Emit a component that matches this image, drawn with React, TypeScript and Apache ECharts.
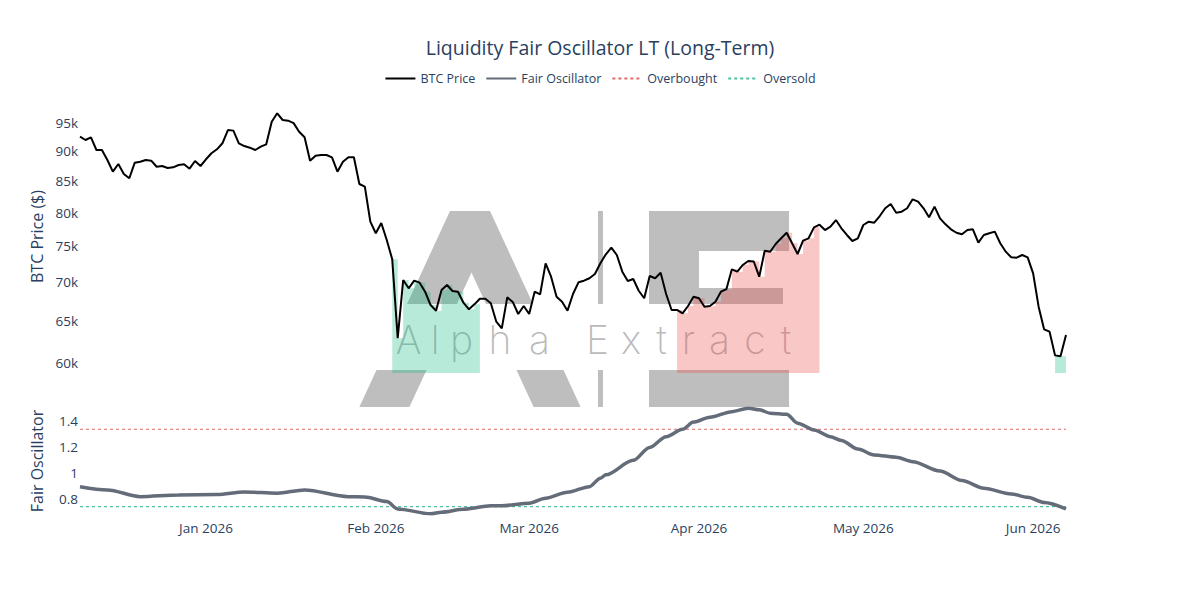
import React, { useEffect, useRef } from "react";
import * as echarts from "echarts";

// ---------- data ----------
const START_DATE = Date.UTC(2025, 11, 9); // first daily observation
const DAY_MS = 86400000;

const BTC_PRICE = [
  92590, 92000, 92480, 90250, 90250, 88540, 86570, 87860, 86190, 85480,
  88080, 88250, 88540, 88420, 87400, 87520, 87190, 87300, 87690, 87800,
  87070, 88370, 87520, 88660, 89680, 90370, 91420, 93780, 93670, 91420,
  90940, 90650, 90250, 90830, 91240, 95290, 96840, 95600, 95480, 95030,
  93480, 92480, 88420, 89270, 89390, 89390, 88990, 86570, 88250, 88990,
  88990, 84550, 84110, 78650, 76920, 78450, 75930, 73170, 62880, 70320,
  69210, 70230, 69960, 68760, 67020, 66300, 68980, 69650, 68850, 68760,
  67320, 66470, 67110, 67840, 67840, 67250, 64910, 64090, 68020, 67420,
  65880, 66900, 65880, 68760, 68420, 72610, 70770, 68100, 67450, 66300,
  68460, 70010, 70230, 70560, 71140, 72610, 73880, 74820, 73780, 71460,
  70190, 70460, 68890, 67900, 70860, 70560, 71310, 68460, 66390, 66390,
  65970, 66900, 68100, 67900, 66810, 66900, 67450, 68760, 69080, 71780,
  71460, 72380, 72940, 72860, 70770, 74390, 74240, 75350, 76180, 77000,
  75460, 73920, 75830, 76180, 77800, 78200, 77400, 77900, 78900, 77660,
  76670, 75790, 76180, 78150, 78650, 78500, 79510, 80700, 81370, 80020,
  80170, 80700, 82100, 81730, 80700, 79310, 80950, 79160, 78250, 77510,
  77000, 76770, 77400, 77510, 75540, 76670, 76920, 77160, 75460, 74250,
  73450, 73400, 73780, 73450, 71230, 66810, 63970, 63680, 60850, 60750,
  63280,
];

// Fair oscillator, read at these day offsets from START_DATE
const OSC_DAYS = [
  0, 5, 11, 18, 25, 30, 36, 41, 49, 52, 56, 58, 64, 66, 70, 75, 77, 82, 85, 89,
  93, 95, 96, 101, 104, 107, 110, 112, 115, 119, 122, 124, 126, 129, 131, 134,
  137, 139, 142, 145, 149, 152, 157, 161, 165, 170, 173, 176, 180,
];
const OSC_VALUES = [
  0.897, 0.872, 0.82, 0.833, 0.836, 0.856, 0.846, 0.872, 0.82, 0.818, 0.782,
  0.725, 0.687, 0.7, 0.723, 0.75, 0.75, 0.769, 0.808, 0.854, 0.897, 0.962,
  0.988, 1.1, 1.2, 1.283, 1.34, 1.395, 1.433, 1.476, 1.503, 1.49, 1.464, 1.456,
  1.387, 1.335, 1.283, 1.253, 1.188, 1.142, 1.124, 1.09, 1.018, 0.944, 0.885,
  0.841, 0.815, 0.774, 0.725,
];

const OVERBOUGHT_LEVEL = 1.34;
const OVERSOLD_LEVEL = 0.743;

// zones (day offsets, inclusive) where the oscillator is beyond a threshold
const OVERSOLD_ZONES = [
  [57, 72],
  [178, 180],
];
const OVERBOUGHT_ZONES = [[109, 134]];

const PRICE_TICKS = [60000, 65000, 70000, 75000, 80000, 85000, 90000, 95000];
const OSC_TICKS = [0.8, 1, 1.2, 1.4];
const MONTH_TICKS = ["2026-01-01", "2026-02-01", "2026-03-01", "2026-04-01", "2026-05-01", "2026-06-01"];
const MONTH_NAMES = ["Jan", "Feb", "Mar", "Apr", "May", "Jun", "Jul", "Aug", "Sep", "Oct", "Nov", "Dec"];

const TITLE = "Liquidity Fair Oscillator LT (Long-Term)";

// ---------- helpers ----------
const dayTime = (i: number) => START_DATE + i * DAY_MS;
const inZones = (i: number, zones: number[][]) => zones.some(([a, b]) => i >= a && i <= b);

const TEXT = "#2a3f5f";
const FONT = "'Open Sans', 'Noto Sans', sans-serif";
const WM = "#bebebe";

export default function App() {
  const ref = useRef<HTMLDivElement>(null);

  useEffect(() => {
    if (!ref.current) return;
    const chart = echarts.init(ref.current, undefined, { renderer: "svg" });

    const priceData = BTC_PRICE.map((p, i) => [dayTime(i), p]);
    const oversoldFill = BTC_PRICE.map((p, i) => [dayTime(i), inZones(i, OVERSOLD_ZONES) ? p : null]);
    const overboughtFill = BTC_PRICE.map((p, i) => [dayTime(i), inZones(i, OVERBOUGHT_ZONES) ? p : null]);
    const oscData = OSC_DAYS.map((d, k) => [dayTime(d), OSC_VALUES[k]]);
    const tMin = dayTime(0);
    const tMax = dayTime(BTC_PRICE.length - 1);
    const monthTicks = MONTH_TICKS.map((s) => Date.parse(s + "T00:00:00Z"));

    const wmPoly = (pts: number[][]) => ({
      type: "polygon",
      silent: true,
      z: 0,
      shape: { points: pts },
      style: { fill: WM },
    });
    const wmRect = (x: number, y: number, w: number, h: number) => ({
      type: "rect",
      silent: true,
      z: 0,
      shape: { x, y, width: w, height: h },
      style: { fill: WM },
    });
    const letters: [string, number][] = [
      ["A", 408.5], ["l", 435], ["p", 461.5], ["h", 500], ["a", 539.5],
      ["E", 597.5], ["x", 631], ["t", 661.5], ["r", 688.5], ["a", 719.5], ["c", 755], ["t", 786],
    ];
    const wmText = letters.map(([ch, x]) => ({
      type: "text",
      silent: true,
      z: 0,
      x,
      y: 359,
      style: {
        text: ch,
        fill: "#bababa",
        font: "200 39px Inter, 'DejaVu Sans', sans-serif",
        align: "center",
        verticalAlign: "bottom",
      },
    }));

    const hiddenX = (gridIndex: number) => ({
      type: "value",
      gridIndex,
      min: tMin,
      max: tMax,
      axisLine: { show: false },
      axisTick: { show: false },
      axisLabel: { show: false },
      splitLine: { show: false },
    });

    const yName = { fontSize: 16, color: TEXT, fontFamily: FONT };
    const tickFont = { fontSize: 13.5, color: TEXT, fontFamily: FONT };

    const option: any = {
      animation: false,
      backgroundColor: "#ffffff",
      title: {
        text: TITLE,
        left: "center",
        top: 32,
        textStyle: { fontSize: 19.5, fontWeight: "normal", color: TEXT, fontFamily: FONT },
      },
      legend: {
        top: 67,
        left: "center",
        itemWidth: 30,
        itemHeight: 14,
        itemGap: 10,
        itemStyle: { opacity: 0 },
        data: ["BTC Price", "Fair Oscillator", "Overbought", "Oversold"],
        textStyle: { fontSize: 12.5, color: TEXT, fontFamily: FONT },
      },
      graphic: [
        wmPoly([[450, 211], [490, 211], [533, 304], [486, 304], [471.5, 272.6], [457, 304], [407, 304]]),
        wmPoly([[376.5, 370], [426.5, 370], [409.4, 407], [359.4, 407]]),
        wmPoly([[516.5, 370], [563.5, 370], [580.6, 407], [533.6, 407]]),
        wmRect(598, 211, 5, 93),
        wmRect(598, 370, 5, 37),
        wmPoly([[649, 211], [789, 211], [789, 251], [699, 251], [699, 288], [783, 288], [783, 304], [649, 304]]),
        wmRect(649, 370, 140, 37),
        ...wmText,
      ],
      grid: [
        { left: 80, right: 134, top: 100, height: 273 },
        { left: 80, right: 134, top: 408, height: 106 },
      ],
      xAxis: [
        hiddenX(0),
        {
          ...hiddenX(1),
          axisLabel: {
            show: true,
            customValues: monthTicks,
            margin: 7,
            ...tickFont,
            formatter: (v: number) => {
              const d = new Date(v);
              return MONTH_NAMES[d.getUTCMonth()] + " " + d.getUTCFullYear();
            },
          },
        },
      ],
      yAxis: [
        {
          type: "log",
          gridIndex: 0,
          min: 58826,
          max: 99340,
          name: "BTC Price ($)",
          nameLocation: "middle",
          nameGap: 35,
          nameTextStyle: yName,
          axisLine: { show: false },
          axisTick: { show: false },
          splitLine: { show: false },
          axisLabel: {
            customValues: PRICE_TICKS,
            margin: 2,
            ...tickFont,
            formatter: (v: number) => Math.round(v / 1000) + "k",
          },
        },
        {
          type: "value",
          gridIndex: 1,
          min: 0.686,
          max: 1.504,
          name: "Fair Oscillator",
          nameLocation: "middle",
          nameGap: 35,
          nameTextStyle: yName,
          axisLine: { show: false },
          axisTick: { show: false },
          splitLine: { show: false },
          axisLabel: {
            customValues: OSC_TICKS,
            margin: 2,
            ...tickFont,
            formatter: (v: number) => String(Math.round(v * 10) / 10),
          },
        },
      ],
      series: [
        {
          name: "Oversold zone",
          type: "line",
          xAxisIndex: 0,
          yAxisIndex: 0,
          data: oversoldFill,
          step: "end",
          symbol: "none",
          connectNulls: false,
          lineStyle: { width: 0, opacity: 0 },
          areaStyle: { color: "rgba(16,185,129,0.3)", opacity: 1 },
          z: 1,
          silent: true,
        },
        {
          name: "Overbought zone",
          type: "line",
          xAxisIndex: 0,
          yAxisIndex: 0,
          data: overboughtFill,
          step: "end",
          symbol: "none",
          connectNulls: false,
          lineStyle: { width: 0, opacity: 0 },
          areaStyle: { color: "rgba(239,68,68,0.3)", opacity: 1 },
          z: 1,
          silent: true,
        },
        {
          name: "BTC Price",
          type: "line",
          xAxisIndex: 0,
          yAxisIndex: 0,
          data: priceData,
          symbol: "none",
          color: "#000000",
          lineStyle: { color: "#000000", width: 2 },
          z: 4,
        },
        {
          name: "Fair Oscillator",
          type: "line",
          xAxisIndex: 1,
          yAxisIndex: 1,
          data: oscData,
          symbol: "none",
          smooth: 0.3,
          smoothMonotone: "x",
          color: "#646c79",
          lineStyle: { color: "#646c79", width: 3.5 },
          z: 4,
        },
        {
          name: "Overbought",
          type: "line",
          xAxisIndex: 1,
          yAxisIndex: 1,
          data: [
            [tMin, OVERBOUGHT_LEVEL],
            [tMax, OVERBOUGHT_LEVEL],
          ],
          symbol: "none",
          color: "#e06a6a",
          lineStyle: { color: "#e06a6a", width: 1.2, type: [3, 3] },
          z: 3,
        },
        {
          name: "Oversold",
          type: "line",
          xAxisIndex: 1,
          yAxisIndex: 1,
          data: [
            [tMin, OVERSOLD_LEVEL],
            [tMax, OVERSOLD_LEVEL],
          ],
          symbol: "none",
          color: "#4cc3a0",
          lineStyle: { color: "#4cc3a0", width: 1.2, type: [3, 3] },
          z: 3,
        },
      ],
    };

    chart.setOption(option);
    return () => chart.dispose();
  }, []);

  return (
    <div
      ref={ref}
      style={{ position: "fixed", left: 0, top: 0, width: 1200, height: 600, background: "#fff" }}
    />
  );
}
